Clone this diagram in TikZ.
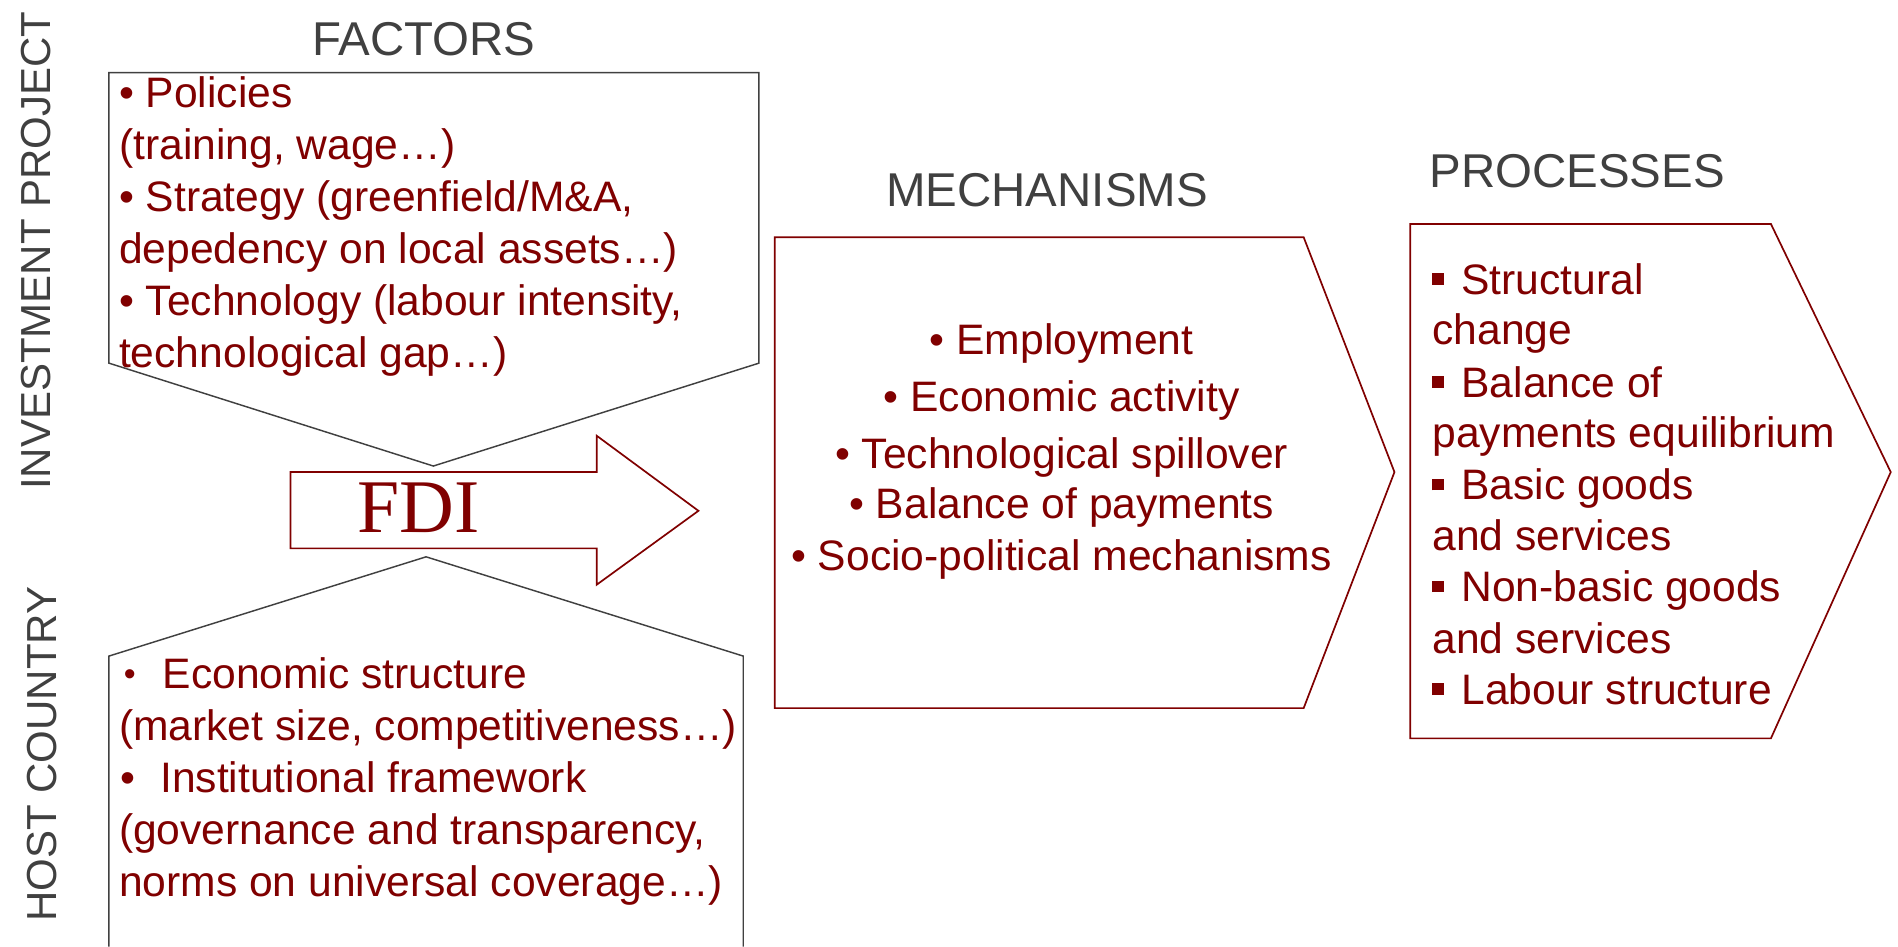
\documentclass[tikz,border=0pt]{standalone}
\usepackage{fontspec}
\setmainfont{Liberation Sans}
\newfontfamily\fdifont{Liberation Serif}
\definecolor{wine}{RGB}{128,0,0}
\definecolor{inkgrey}{RGB}{64,64,64}
\newcommand{\sqbul}{\makebox[12pt][l]{\rule[3.9pt]{4.8pt}{4.8pt}}}
\newcommand{\rbul}{\makebox[16.5pt][l]{•}}
\newcommand{\smallbul}{\makebox[16.5pt][l]{\hspace{0.5pt}\raisebox{1.2pt}{\fontsize{14}{14}\selectfont •}}}
\tikzset{
  greyline/.style={draw=inkgrey, line width=0.6pt, line join=miter},
  redline/.style={draw=wine, line width=0.7pt, line join=miter},
  bodytext/.style={font=\fontsize{17.6}{21.5}\selectfont, text=wine, inner sep=0pt},
  lefttext/.style={bodytext, anchor=base west},
  midtext/.style={bodytext, anchor=base},
  heading/.style={font=\fontsize{19.6}{22}\selectfont, text=inkgrey, inner sep=0pt, anchor=base},
  sidelabel/.style={font=\fontsize{17.35}{20}\selectfont, text=inkgrey, inner sep=0pt, anchor=base, rotate=90},
}
\begin{document}
\begin{tikzpicture}[x=0.5pt,y=-0.5pt]
\fill[white] (0,0) rectangle (1568,782);
\useasboundingbox (0,0) rectangle (1568,782);

% side labels
\node[sidelabel] (invproj) at (42,207) {INVESTMENT PROJECT};
\node[sidelabel] (host) at (47,623) {HOST COUNTRY};

% headings
\node[heading] (hfactors) at (350,46) {FACTORS};
\node[heading] (hmech) at (865,171) {MECHANISMS};
\node[heading] (hproc) at (1303,155) {PROCESSES};

% investment-project factors: pentagon pointing down
\draw[greyline] (90,60) -- (627,60) -- (627,300) -- (358,385) -- (90,300) -- cycle;
% host-country factors: pentagon pointing up, running off the lower edge
\draw[greyline] (90,782) -- (90,542) -- (352,460) -- (614,542) -- (614,782);

% FDI block arrow
\draw[redline] (240,390) -- (493,390) -- (493,360) -- (577,422) -- (493,483)
  -- (493,453) -- (240,453) -- cycle;
\node[font=\fdifont\fontsize{31.3}{32}\selectfont, text=wine, inner sep=0pt, anchor=base]
  (fdi) at (346,440) {FDI};

% mechanisms chevron
\draw[redline] (640,196) -- (1077,196) -- (1152,390) -- (1077,585) -- (640,585) -- cycle;
% processes chevron
\draw[redline] (1165,185) -- (1463,185) -- (1562,390) -- (1463,610) -- (1165,610) -- cycle;

% investment-project factors text
\node[lefttext] (f1) at (98,89)  {• Policies};
\node[lefttext] (f2) at (98,132) {(training, wage…)};
\node[lefttext] (f3) at (98,175) {• Strategy (greenfield/M\&A,};
\node[lefttext] (f4) at (98,218) {depedency on local assets…)};
\node[lefttext] (f5) at (98,261) {• Technology (labour intensity,};
\node[lefttext] (f6) at (98,304) {technological gap…)};

% host-country factors text
\node[lefttext] (h1) at (101,569) {\smallbul Economic structure};
\node[lefttext] (h2) at (98,612)  {(market size, competitiveness…)};
\node[lefttext] (h3) at (99,655)  {\rbul Institutional framework};
\node[lefttext] (h4) at (98,698)  {(governance and transparency,};
\node[lefttext] (h5) at (98,741)  {norms on universal coverage…)};

% mechanisms text
\node[midtext] (m1) at (877,293) {• Employment};
\node[midtext] (m2) at (877,340) {• Economic activity};
\node[midtext] (m3) at (877,387) {• Technological spillover};
\node[midtext] (m4) at (877,428) {• Balance of payments};
\node[midtext] (m5) at (877,471) {• Socio-political mechanisms};

% processes text
\node[lefttext] (p1) at (1183,243) {\sqbul Structural};
\node[lefttext] (p2) at (1183,285) {change};
\node[lefttext] (p3) at (1183,328) {\sqbul Balance of};
\node[lefttext] (p4) at (1183,370) {payments equilibrium};
\node[lefttext] (p5) at (1183,413) {\sqbul Basic goods};
\node[lefttext] (p6) at (1183,455) {and services};
\node[lefttext] (p7) at (1183,497) {\sqbul Non-basic goods};
\node[lefttext] (p8) at (1183,540) {and services};
\node[lefttext] (p9) at (1183,582) {\sqbul Labour structure};
\end{tikzpicture}
\end{document}
